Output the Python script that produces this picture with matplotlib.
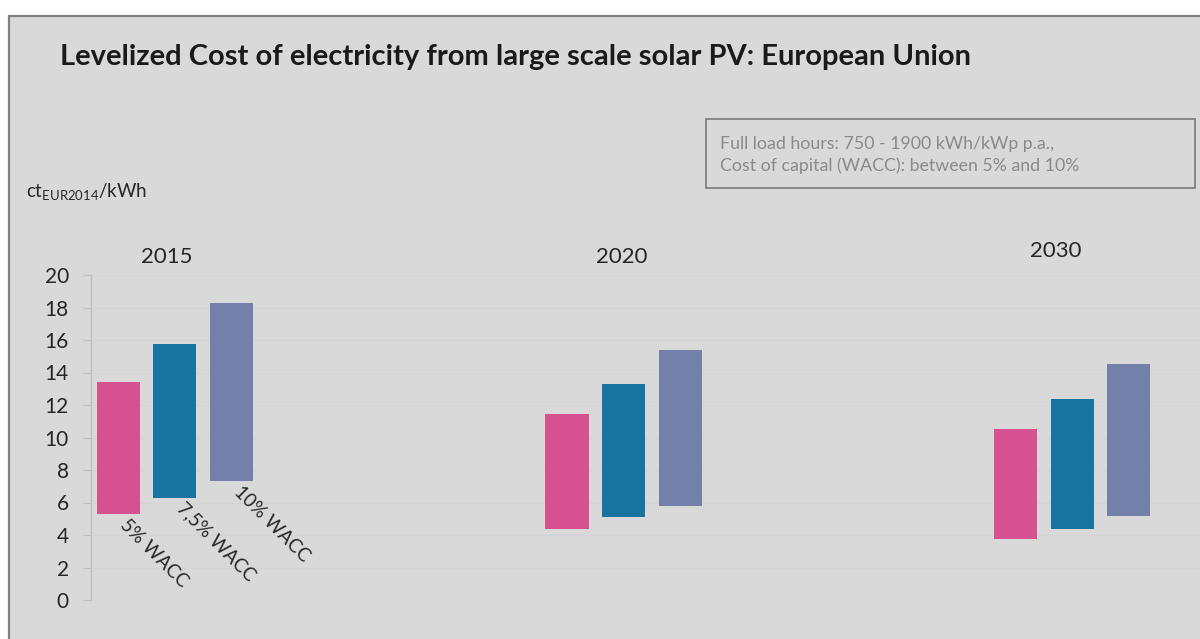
import matplotlib
matplotlib.use("Agg")
import matplotlib.pyplot as plt
from matplotlib.patches import Rectangle
import numpy as np

# ---- data ----
years = ["2015", "2020", "2030"]
series = ["5% WACC", "7,5% WACC", "10% WACC"]
low_5 = [5.3, 4.4, 3.75]
high_5 = [13.4, 11.45, 10.5]
low_75 = [6.3, 5.1, 4.4]
high_75 = [15.75, 13.3, 12.4]
low_10 = [7.3, 5.8, 5.2]
high_10 = [18.3, 15.4, 14.5]
yticks = [0, 2, 4, 6, 8, 10, 12, 14, 16, 18, 20]

title = "Levelized Cost of electricity from large scale solar PV: European Union"
note = "Full load hours: 750 - 1900 kWh/kWp p.a.,\nCost of capital (WACC): between 5% and 10%"

colors = ["#d6518f", "#1a74a2", "#7280aa"]
bg = "#d9d9d9"

plt.rcParams["font.family"] = ["Lato", "DejaVu Sans"]

fig = plt.figure(figsize=(12, 6.39), dpi=100)
fig.patch.set_facecolor("white")
# outer chart frame
fig.patches.append(Rectangle((9 / 1200, -0.05), 1.1, 1 - 16 / 639 + 0.05,
                             transform=fig.transFigure, facecolor=bg,
                             edgecolor="#808080", linewidth=1.6, zorder=-10))

ax = fig.add_axes([91 / 1200, 1 - 600 / 639, 1 - 91 / 1200, (600 - 275) / 639])
ax.set_facecolor(bg)
ax.patch.set_alpha(0)

x = np.arange(len(years))
offs = [-0.126, 0.0, 0.126]
w = 0.096
lows = [low_5, low_75, low_10]
highs = [high_5, high_75, high_10]
for i in range(3):
    lo = np.array(lows[i])
    hi = np.array(highs[i])
    ax.bar(x + offs[i], hi - lo, bottom=lo, width=w, color=colors[i],
           edgecolor="none", zorder=3)

ax.set_xlim(-0.187, 2.285)
ax.set_ylim(0, 20)
ax.set_yticks(yticks)
ax.set_yticklabels([str(t) for t in yticks], fontsize=15, color="#262626")
ax.tick_params(axis="y", length=6, color="#bfbfbf", pad=10)
ax.set_xticks([])
for s in ["top", "right", "bottom"]:
    ax.spines[s].set_visible(False)
ax.spines["left"].set_color("#bfbfbf")
ax.spines["left"].set_linewidth(1.0)
ax.grid(axis="y", color="#d4d4d4", linewidth=0.8, zorder=0)

# rotated series labels under first group's bars
for i, lab in enumerate(series):
    ax.annotate(lab, xy=(x[0] + offs[i], lows[i][0]), xytext=(11, -2),
                textcoords="offset pixels", rotation=-45, rotation_mode="anchor",
                ha="left", va="top", fontsize=13.5, color="#262626")

# year labels above groups
year_y = [21.1, 21.1, 21.5]
year_dx = [-0.018, -0.005, -0.036]
for i, yr in enumerate(years):
    ax.text(x[i] + year_dx[i], year_y[i], yr, ha="center", va="center",
            fontsize=16, color="#262626", clip_on=False)

# title
fig.text(60 / 1200, 1 - 57 / 639, title, fontsize=21, fontweight="bold",
         color="#1a1a1a", ha="left", va="center")

# y unit label
fig.text(26 / 1200, 1 - 192 / 639, r"ct$_{\mathregular{EUR2014}}$/kWh",
         fontsize=13.5, color="#262626", ha="left", va="center")

# note box
fig.patches.append(Rectangle((706 / 1200, 1 - 188 / 639), (1195 - 706) / 1200,
                             (188 - 119) / 639, transform=fig.transFigure,
                             facecolor=bg, edgecolor="#808080", linewidth=1.3,
                             zorder=1))
fig.text(720 / 1200, 1 - 155 / 639, note, fontsize=12.8, color="#8a8a8a",
         ha="left", va="center", linespacing=1.45)

fig.savefig("out.png", dpi=100, facecolor="white")
